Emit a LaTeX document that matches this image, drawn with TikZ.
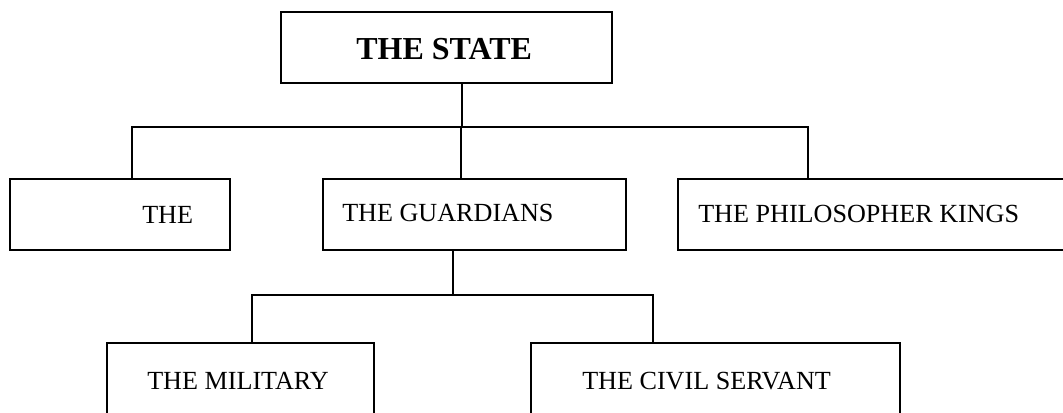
\documentclass[tikz,border=0pt]{standalone}
\usepackage{fontspec}
\setmainfont{Liberation Serif}
\begin{document}
\begin{tikzpicture}[x=0.75pt,y=-0.75pt,
  box/.style={draw=black,line width=1.3pt,inner sep=0pt,anchor=north west},
  lbl/.style={inner sep=0pt,anchor=base west,font=\fontsize{19.6pt}{22pt}\selectfont},
  conn/.style={draw=black,line width=1.1pt}]
\useasboundingbox (0,0) rectangle (1063,412);
\clip (0,0) rectangle (1063,412);
% boxes
\node[box,minimum width=331*0.75pt,minimum height=71*0.75pt] (state) at (280,11) {};
\node[box,minimum width=220*0.75pt,minimum height=71*0.75pt] (the) at (9,178) {};
\node[box,minimum width=303*0.75pt,minimum height=71*0.75pt] (guard) at (322,178) {};
\node[box,minimum width=400*0.75pt,minimum height=71*0.75pt] (pk) at (677,178) {};
\node[box,minimum width=267*0.75pt,minimum height=90*0.75pt] (mil) at (106,342) {};
\node[box,minimum width=369*0.75pt,minimum height=90*0.75pt] (civ) at (530,342) {};
% texts
\node[lbl,font=\fontsize{24pt}{26pt}\selectfont\bfseries] (tstate) at (356,59) {THE STATE};
\node[lbl] (tthe) at (142,223) {THE};
\node[lbl] (tguard) at (342,221) {THE GUARDIANS};
\node[lbl] (tpk) at (698,222) {THE PHILOSOPHER KINGS};
\node[lbl] (tmil) at (147,389) {THE MILITARY};
\node[lbl] (tciv) at (582,389) {THE CIVIL SERVANT};
% junction coordinates
\coordinate (j1) at (462,127);
\coordinate (l1) at (132,127);
\coordinate (m1) at (461,127);
\coordinate (r1) at (808,127);
\coordinate (j2) at (453,295);
\coordinate (l2) at (252,295);
\coordinate (r2) at (653,295);
% connectors
\draw[conn] (state.south -| j1) -- (j1);
\draw[conn] (l1 |- the.north) -- (l1) -- (r1) -- (r1 |- pk.north);
\draw[conn] (m1) -- (m1 |- guard.north);
\draw[conn] (guard.south -| j2) -- (j2);
\draw[conn] (l2 |- mil.north) -- (l2) -- (r2) -- (r2 |- civ.north);
\end{tikzpicture}
\end{document}
